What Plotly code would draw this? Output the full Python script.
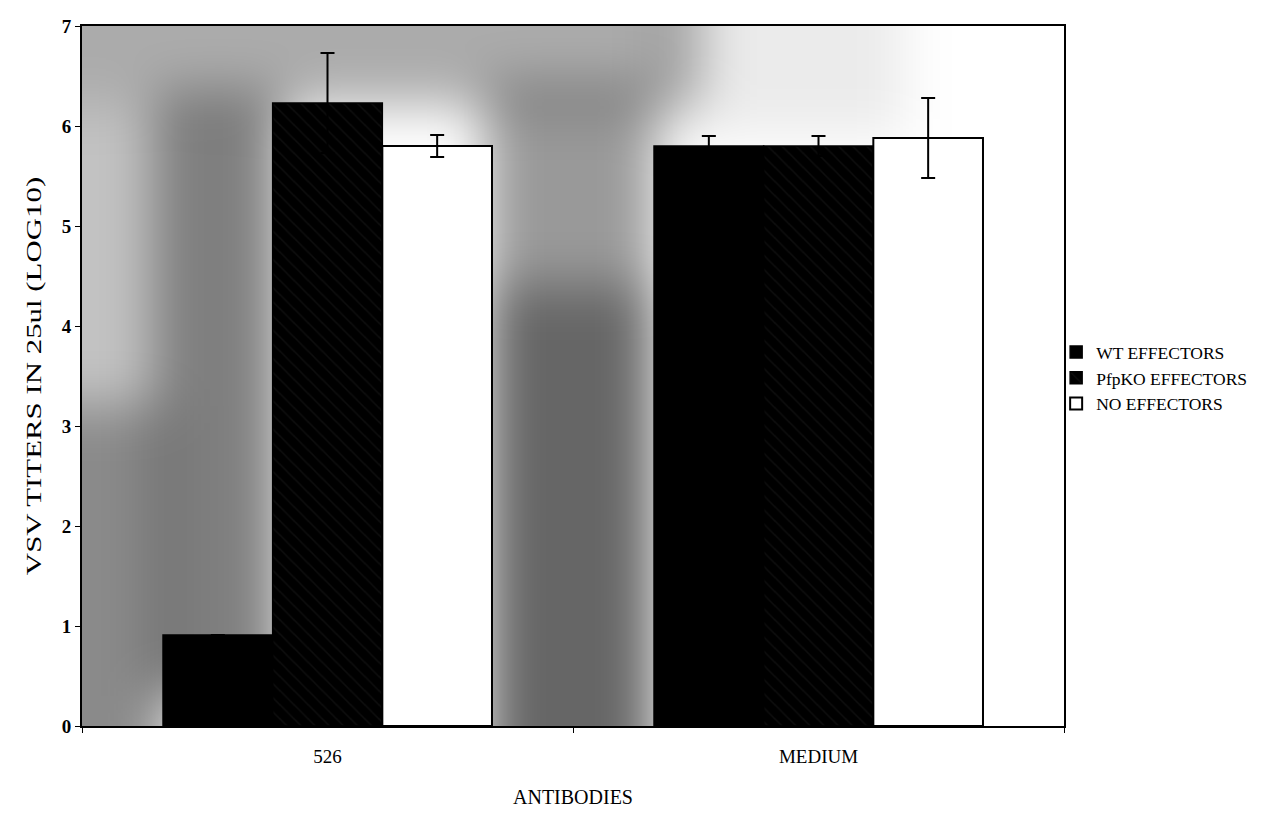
import urllib.parse
import plotly.graph_objects as go

# Antibody treatment groups on the x axis
antibodies = ["526", "MEDIUM"]

# VSV titers (log10) per effector type, with error bar half-widths
wt_titer = [0.91, 5.80]
wt_err = [0.0, 0.10]
pfpko_titer = [6.23, 5.80]
pfpko_err = [0.50, 0.10]
none_titer = [5.80, 5.88]
none_err = [0.11, 0.40]

series_names = ["WT EFFECTORS", "PfpKO EFFECTORS", "NO EFFECTORS"]

serif = "Liberation Serif, Times New Roman, serif"

# Shaded plot-area fill: soft grey patches on white, blurred together.
# Patches run past the edges so the blur does not fade them at the frame.
shade_svg = """<svg xmlns='http://www.w3.org/2000/svg' width='985' height='700' viewBox='0 0 985 700' preserveAspectRatio='none'>
<defs><filter id='b' filterUnits='userSpaceOnUse' x='-200' y='-200' width='1385' height='1100'><feGaussianBlur stdDeviation='26'/></filter></defs>
<rect width='985' height='700' fill='#ffffff'/>
<g filter='url(#b)'>
<rect x='-100' y='-100' width='720' height='180' fill='#000' opacity='0.33'/>
<rect x='-100' y='80' width='185' height='300' fill='#000' opacity='0.24'/>
<rect x='-100' y='380' width='185' height='420' fill='#000' opacity='0.46'/>
<rect x='75' y='70' width='125' height='600' fill='#000' opacity='0.50'/>
<rect x='405' y='60' width='170' height='200' fill='#000' opacity='0.40'/>
<rect x='405' y='260' width='170' height='540' fill='#000' opacity='0.60'/>
<rect x='575' y='-100' width='250' height='210' fill='#000' opacity='0.08'/>
</g>
</svg>"""
shade_uri = "data:image/svg+xml;charset=utf-8," + urllib.parse.quote(shade_svg)

def err(vals):
    return dict(type="data", array=vals, visible=True, color="black",
                thickness=2, width=7)

fig = go.Figure()
fig.add_trace(go.Bar(
    x=antibodies, y=wt_titer, name=series_names[0],
    marker=dict(color="black", line=dict(color="black", width=1.5)),
    error_y=err(wt_err),
))
fig.add_trace(go.Bar(
    x=antibodies, y=pfpko_titer, name=series_names[1],
    marker=dict(color="black", line=dict(color="black", width=1.5),
                pattern=dict(shape="\\", fgcolor="#1c1c1c", bgcolor="black",
                             size=10, solidity=0.15)),
    error_y=err(pfpko_err),
))
fig.add_trace(go.Bar(
    x=antibodies, y=none_titer, name=series_names[2],
    marker=dict(color="white", line=dict(color="black", width=2)),
    error_y=err(none_err),
))

fig.add_layout_image(
    source=shade_uri, xref="x domain", yref="y domain",
    x=0, y=1, sizex=1, sizey=1, xanchor="left", yanchor="top",
    sizing="stretch", layer="below",
)

fig.update_layout(
    width=1264, height=814,
    margin=dict(l=82, r=197, t=26, b=88),
    paper_bgcolor="white",
    plot_bgcolor="rgba(0,0,0,0)",
    barmode="group",
    bargap=0.33,
    bargroupgap=0,
    font=dict(family=serif, color="black", size=19),
    showlegend=True,
    legend=dict(
        x=0.992, xanchor="left", y=0.497, yanchor="middle",
        font=dict(family=serif, size=17.5, color="black"),
        bgcolor="rgba(0,0,0,0)", borderwidth=0,
        tracegroupgap=0, itemwidth=30,
    ),
)

fig.update_xaxes(
    title=dict(text="ANTIBODIES", font=dict(family=serif, size=20), standoff=24),
    automargin=False,
    range=[-0.5, 1.5],
    showline=True, linecolor="black", linewidth=2, mirror=True,
    ticks="outside", ticklen=5, tickwidth=1, tickcolor="black",
    tickson="boundaries", ticklabelstandoff=12,
    tickfont=dict(family=serif, size=19),
    showgrid=False, zeroline=False,
)
fig.update_yaxes(
    title=dict(text="VSV TITERS IN 25ul (LOG10)", font=dict(family=serif, size=21),
               standoff=14),
    automargin=False,
    range=[0, 7], dtick=1,
    showline=True, linecolor="black", linewidth=2, mirror=True,
    ticks="outside", ticklen=5, tickwidth=1, tickcolor="black",
    tickfont=dict(family=serif, size=19, weight="bold"),
    showgrid=False, zeroline=False,
)

# The axis title is set in a tall, elongated lettering: stretch it along its length.
stretch_title = """
var gd = document.getElementById('{plot_id}');
var t = gd.querySelector('.g-ytitle text');
if (t) {
  var x = +t.getAttribute('x'), y = +t.getAttribute('y');
  t.setAttribute('transform', 'rotate(-90,' + x + ',' + y + ') translate(' + x + ',' + y +
                 ') scale(1.47,1) translate(' + (-x) + ',' + (-y) + ')');
}
"""

fig.write_html("out.html", post_script=stretch_title)
